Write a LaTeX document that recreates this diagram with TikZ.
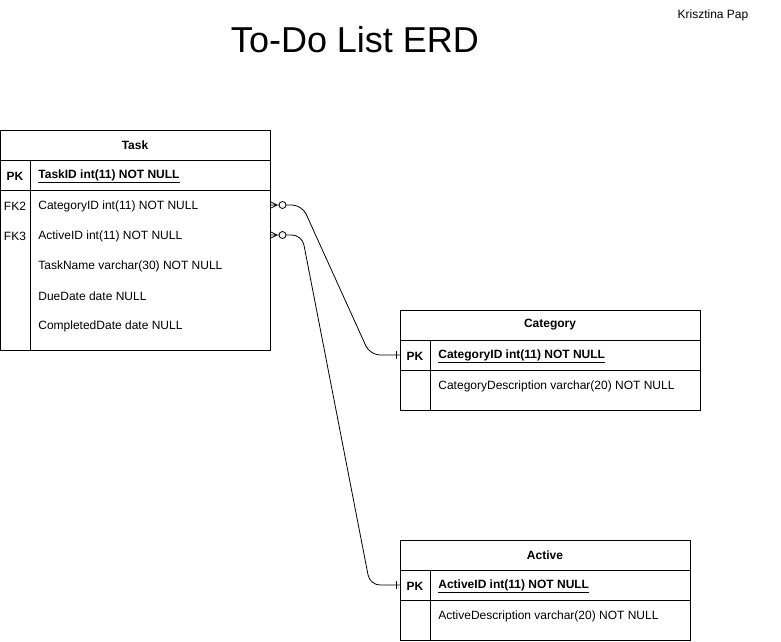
\documentclass[tikz,border=0pt]{standalone}
\usepackage{fontspec}
\setmainfont{Liberation Sans}
\usetikzlibrary{positioning}

\begin{document}
\begin{tikzpicture}[x=1pt, y=-1pt, line width=0.8pt, node distance=0pt,
  head/.style = {draw, minimum width=#1, minimum height=30, inner sep=0pt, outer sep=0pt, font=\fontsize{12}{14}\selectfont\bfseries},
  keyrow/.style = {draw, minimum width=#1, minimum height=30, inner sep=0pt, outer sep=0pt},
  body/.style = {draw, minimum width=#1, inner sep=0pt, outer sep=0pt},
  key/.style = {font=\fontsize{12}{14}\selectfont\bfseries, inner sep=0pt, yshift=-1pt},
  fk/.style = {font=\fontsize{12}{14}\selectfont, inner sep=0pt, yshift=-1pt},
  field/.style = {anchor=west, font=\fontsize{12}{14}\selectfont, inner sep=0pt, yshift=-1.5pt},
  pkfield/.style = {field, font=\fontsize{12}{14}\selectfont\bfseries}]
  \useasboundingbox (0,0) rectangle (781,641);

  \node[font=\fontsize{36}{40}\selectfont] (title) at (355,40) {To-Do List ERD};
  \node[font=\fontsize{12}{14}\selectfont] (author) at (713,15) {Krisztina Pap};

  % Task
  \node[head=270] (taskhead) at (135,145) {Task};
  \node[keyrow=270, below=of taskhead] (taskpk) {};
  \node[body=270, minimum height=160, below=of taskpk] (taskbody) {};
  \draw ([xshift=30pt]taskpk.north west) -- ([xshift=30pt]taskbody.south west);
  \node[key] (taskpkl) at (15,175) {PK};
  \node[pkfield] (taskid) at (38,175) {\underline{TaskID int(11) NOT NULL}};
  \node[fk] (fk2) at (15,205) {FK2};
  \node[field] (catref) at (38,205) {CategoryID int(11) NOT NULL};
  \node[fk] (fk3) at (15,235) {FK3};
  \node[field] (actref) at (38,235) {ActiveID int(11) NOT NULL};
  \node[field] (taskname) at (38,265) {TaskName varchar(30) NOT NULL};
  \node[field] (duedate) at (38,295) {DueDate date NULL};
  \node[field] (donedate) at (38,325) {CompletedDate date NULL};

  % Category
  \node[head=300] (cathead) at (550,325) {Category};
  \node[keyrow=300, below=of cathead] (catpk) {};
  \node[body=300, minimum height=40, below=of catpk] (catbody) {};
  \draw ([xshift=30pt]catpk.north west) -- ([xshift=30pt]catbody.south west);
  \node[key] (catpkl) at (415,355) {PK};
  \node[pkfield] (catid) at (438,355) {\underline{CategoryID int(11) NOT NULL}};
  \node[field] (catdesc) at (438,385) {CategoryDescription varchar(20) NOT NULL};

  % Active
  \node[head=290] (acthead) at (545,555) {Active};
  \node[keyrow=290, below=of acthead] (actpk) {};
  \node[body=290, minimum height=40, below=of actpk] (actbody) {};
  \draw ([xshift=30pt]actpk.north west) -- ([xshift=30pt]actbody.south west);
  \node[key] (actpkl) at (415,585) {PK};
  \node[pkfield] (actid) at (438,585) {\underline{ActiveID int(11) NOT NULL}};
  \node[field] (actdesc) at (438,615) {ActiveDescription varchar(20) NOT NULL};

  % relations
  \coordinate (catfoot) at ([yshift=1.5pt]taskbody.east |- catref.west);
  \coordinate (actfoot) at ([yshift=1.5pt]taskbody.east |- actref.west);
  \foreach \f/\t in {catfoot/catpk, actfoot/actpk} {
    \draw (\f) ++(0,-3.5) -- ++(7,3.5) -- ++(-7,3.5) (\f) -- ++(9,0);
    \draw[rounded corners=10pt] ([xshift=16pt]\f) -- ([xshift=32pt]\f) -- ([xshift=-30pt]\t.west) -- (\t.west);
    \draw[fill=white] ([xshift=12.5pt]\f) circle (3.5pt);
    \draw ([xshift=-4pt]\t.west) ++(0,-4) -- ++(0,8);
  }
\end{tikzpicture}
\end{document}
